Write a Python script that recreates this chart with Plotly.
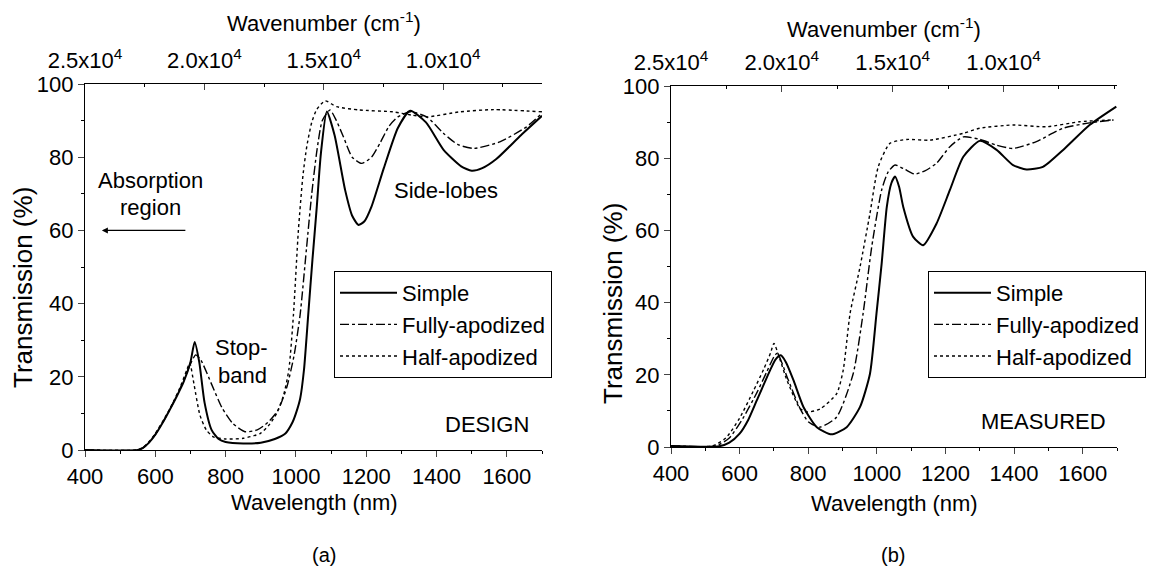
import plotly.graph_objects as go

# ---------------- data ----------------
# Panel (a) DESIGN
a_simple_wl = [400, 550, 565, 580, 600, 620, 640, 660, 680, 700, 712, 725, 740, 760, 780, 800, 850, 900, 940, 970, 990, 1000,
               1012, 1023, 1035, 1047, 1059, 1071, 1088, 1110, 1140, 1160, 1178, 1195, 1215, 1250, 1290, 1325, 1370, 1420,
               1470, 1500, 1530, 1570, 1640, 1700]
a_simple_t = [0, 0, 0.6, 1.8, 4.2, 7.3, 10.8, 14.5, 18.5, 24, 29.5, 24, 13, 5.5, 3, 2.2, 1.8, 2, 3, 4.5, 7.5, 10,
              14, 22, 37, 52, 66, 81, 92.5, 86, 71, 64, 61.5, 62.5, 66.5, 77, 88, 92.7, 89.5, 82,
              77.5, 76.3, 77, 79.5, 86, 91.3]

a_full_wl = [400, 550, 565, 580, 600, 640, 680, 700, 715, 730, 760, 790, 820, 855, 890, 920, 950, 975, 995, 1012, 1030, 1045,
             1060, 1075, 1097, 1115, 1135, 1160, 1187, 1215, 1240, 1265, 1290, 1325, 1372, 1420, 1460, 1505, 1580, 1656, 1700]
a_full_t = [0, 0, 0.6, 1.8, 4.2, 10.8, 18.8, 23.5, 26, 24.5, 18, 11.5, 7.3, 5, 5.5, 7.5, 11, 17.5, 26, 37, 55, 70,
            82, 90, 92.9, 90, 85.6, 80, 78.3, 80, 84, 88.5, 91, 92.4, 91, 86.5, 83.5, 82.4, 84.2, 88.3, 92]

a_half_wl = [400, 550, 565, 580, 600, 640, 670, 690, 698, 710, 727, 745, 765, 800, 850, 898, 925, 945, 965, 980, 993, 1007,
             1020, 1031, 1045, 1059, 1083, 1116, 1180, 1275, 1330, 1372, 1467, 1562, 1700]
a_half_t = [0, 0, 0.7, 2, 4.5, 11, 17, 22, 23.8, 18, 9.5, 5.5, 3.6, 3, 3.2, 4.5, 7, 10, 15, 22, 37, 60,
            75, 83, 89.5, 93, 95.4, 93.8, 92.9, 92.4, 91.5, 91, 92.4, 93, 92.4]

# Panel (b) MEASURED
b_simple_wl = [400, 540, 570, 600, 625, 650, 689, 705, 720, 735, 757, 786, 825, 868, 912, 951, 980, 999, 1014, 1029, 1042, 1053,
               1065, 1077, 1106, 1135, 1174, 1213, 1252, 1300, 1349, 1397, 1436, 1484, 1543, 1620, 1698]
b_simple_t = [0.3, 0.2, 1.2, 3.7, 7.5, 12.9, 21.3, 24.3, 25.4, 23.5, 18.5, 11.1, 5.5, 3.5, 5.5, 11.1, 20.3, 37, 50.8, 66.5, 73, 74.9,
              72, 66.5, 58.2, 55.9, 61.9, 71.2, 80.4, 84.8, 82.3, 78.1, 76.9, 77.6, 82.3, 89.2, 94.3]

b_full_wl = [400, 530, 570, 610, 650, 680, 700, 710, 740, 776, 800, 834, 883, 931, 960, 985, 1014, 1033, 1053, 1080, 1110,
             1140, 1174, 1213, 1252, 1300, 1349, 1397, 1465, 1543, 1620, 1690]
b_full_t = [0.3, 0.3, 2.5, 8, 15, 21, 25, 26, 19, 10.7, 7, 5.5, 8.3, 20.3, 37, 55.4, 71.2, 76.2, 78.1, 77, 75.6,
            76.5, 78.6, 83.2, 85.9, 85.2, 83.6, 82.7, 84.6, 88.3, 89.8, 90.6]

b_half_wl = [400, 520, 560, 600, 640, 670, 690, 700, 715, 738, 776, 796, 834, 883, 902, 922, 951, 980, 1004, 1038, 1087,
             1155, 1252, 1300, 1397, 1494, 1591, 1690]
b_half_t = [0.3, 0.3, 2.5, 8, 15.5, 21.5, 26, 28.7, 25, 18.5, 10.7, 9.7, 10.5, 14.8, 21.3, 37, 49.9, 64.7, 77.6, 84.1, 85.2,
            85, 86.9, 88.3, 89.2, 88.7, 90.1, 90.6]

series_names = ["Simple", "Fully-apodized", "Half-apodized"]
wn_tickvals = [25000, 20000, 15000, 10000]
wn_ticktext = ["2.5x10<sup>4</sup>", "2.0x10<sup>4</sup>", "1.5x10<sup>4</sup>", "1.0x10<sup>4</sup>"]

# ---------------- figure ----------------
W, H = 1149, 568
FONT = "Liberation Sans, Arial, Helvetica, sans-serif"
FS = 22

def px(x):
    return x / W

def py(y):
    return 1 - y / H

styles = [dict(color="black", width=2.0, dash="solid"),
          dict(color="black", width=1.4, dash="dashdot"),
          dict(color="black", width=1.4, dash="dot")]

fig = go.Figure()
panel_a = [(a_simple_wl, a_simple_t), (a_full_wl, a_full_t), (a_half_wl, a_half_t)]
panel_b = [(b_simple_wl, b_simple_t), (b_full_wl, b_full_t), (b_half_wl, b_half_t)]

for (xs, ys), name, st in zip(panel_a, series_names, styles):
    fig.add_trace(go.Scatter(x=xs, y=ys, mode="lines", name=name, line=dict(shape="spline", smoothing=0.6, **st),
                             xaxis="x", yaxis="y", legend="legend"))
for (xs, ys), name, st in zip(panel_b, series_names, styles):
    fig.add_trace(go.Scatter(x=xs, y=ys, mode="lines", name=name, line=dict(shape="spline", smoothing=0.6, **st),
                             xaxis="x2", yaxis="y2", legend="legend2"))
# carriers so the top wavenumber axes are drawn (no visible marks)
for xa, ya in (("x3", "y"), ("x4", "y2")):
    fig.add_trace(go.Scatter(x=wn_tickvals, y=[None] * len(wn_tickvals), mode="lines", showlegend=False,
                             hoverinfo="skip", xaxis=xa, yaxis=ya))

common_x = dict(range=[400, 1700], dtick=200, tick0=400, ticks="outside", ticklen=6, tickwidth=1, showline=True,
                linecolor="black", linewidth=1.2, showgrid=False, zeroline=False, automargin=False,
                tickfont=dict(family=FONT, size=FS, color="black"),
                minor=dict(dtick=100, ticks="outside", ticklen=3, tickcolor="black"))
common_y = dict(range=[0, 100], dtick=20, ticks="outside", ticklen=6, tickwidth=1, showline=True,
                linecolor="black", linewidth=1.2, showgrid=False, zeroline=False, automargin=False,
                tickfont=dict(family=FONT, size=FS, color="black"),
                minor=dict(dtick=10, ticks="outside", ticklen=3, tickcolor="black"))
common_top = dict(side="top", tickmode="array", tickvals=wn_tickvals, ticktext=wn_ticktext, ticks="inside", ticklen=6,
                  showline=True, linecolor="black", linewidth=1.2, showgrid=False, zeroline=False, automargin=False,
                  ticklabelstandoff=6,
                  tickfont=dict(family=FONT, size=FS, color="black"),
                  minor=dict(tickmode="linear", tick0=0, dtick=2500, ticks="inside", ticklen=3, tickcolor="black"))

fig.update_layout(
    width=W, height=H,
    margin=dict(l=0, r=0, t=0, b=0, autoexpand=False),
    paper_bgcolor="white", plot_bgcolor="white",
    font=dict(family=FONT, size=FS, color="black"),
    xaxis=dict(domain=[px(85), px(542)], anchor="y", **common_x),
    yaxis=dict(domain=[py(450), py(84)], anchor="x", **common_y),
    xaxis2=dict(domain=[px(671), px(1117)], anchor="y2", **common_x),
    yaxis2=dict(domain=[py(447), py(86)], anchor="x2", **common_y),
    xaxis3=dict(overlaying="x", anchor="y", range=[25000, 5860], **common_top),
    xaxis4=dict(overlaying="x2", anchor="y2", range=[25000, 4880], **common_top),
    legend=dict(x=px(334), y=py(271), xanchor="left", yanchor="top", bordercolor="black", borderwidth=1,
                bgcolor="white", font=dict(family=FONT, size=FS), itemwidth=57, tracegroupgap=0),
    legend2=dict(x=px(928), y=py(271), xanchor="left", yanchor="top", bordercolor="black", borderwidth=1,
                 bgcolor="white", font=dict(family=FONT, size=FS), itemwidth=57, tracegroupgap=0),
    showlegend=True,
)

ann = []
def text(x, y, s, **kw):
    ann.append(dict(x=px(x), y=py(y), xref="paper", yref="paper", text=s, showarrow=False,
                    xanchor="center", yanchor="middle",
                    font=dict(family=FONT, size=kw.pop("size", FS), color="black"), **kw))

# axis titles
text(324, 22, "Wavenumber (cm<sup>-1</sup>)")
text(884, 28, "Wavenumber (cm<sup>-1</sup>)")
text(314, 502, "Wavelength (nm)")
text(894, 503, "Wavelength (nm)")
text(23, 288, "Transmission (%)", textangle=-90, size=26)
text(613, 304, "Transmission (%)", textangle=-90, size=26)
text(324, 555, "(a)", size=20)
text(893, 555, "(b)", size=20)
# in-plot labels
text(150, 180, "Absorption")
text(150, 208, "region")
text(241, 347, "Stop-")
text(242, 375, "band")
text(446, 190, "Side-lobes")
text(487, 425, "DESIGN")
text(1043, 421, "MEASURED")
# arrow
ann.append(dict(x=448, y=60, xref="x", yref="y", ax=85, ay=0, axref="pixel", ayref="pixel", text="",
                showarrow=True, arrowhead=2, arrowsize=1, arrowwidth=1.2, arrowcolor="black"))
fig.update_layout(annotations=ann)

fig.write_html("out.html", config={"displayModeBar": False},
               post_script="document.body.style.margin='0px';document.body.style.padding='0px';")
